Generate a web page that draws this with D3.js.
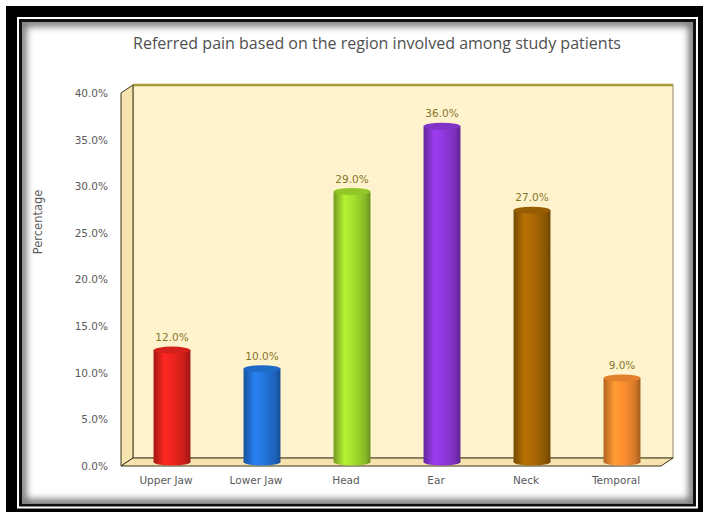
<!DOCTYPE html>
<html>
<head>
<meta charset="utf-8">
<script src="https://cdn.jsdelivr.net/npm/d3@7"></script>
<style>
  body { margin: 0; background: #fff; }
  svg { display: block; }
</style>
</head>
<body>
<svg id="chart"></svg>
<script>
const categories = ["Upper Jaw", "Lower Jaw", "Head", "Ear", "Neck", "Temporal"]
const values = [12.0, 10.0, 29.0, 36.0, 27.0, 9.0]
const barColors = ["#e3231d", "#2272d6", "#9ed62c", "#8b36d6", "#a36403", "#f58a2e"]
const yTicks = [0, 5, 10, 15, 20, 25, 30, 35, 40]
const chartTitle = "Referred pain based on the region involved among study patients"
const yTitle = "Percentage"

const width = 703
const height = 512

// front face of the 3d box, and its depth offset
const front = { left: 121, right: 661, top: 93, bottom: 466 }
const depth = { dx: 12, dy: 8 }

const svg = d3.select("#chart")
    .attr("width", width)
    .attr("height", height)
    .attr("viewBox", [0, 0, width, height])

const defs = svg.append("defs")

// ---- frame ----
svg.append("rect").attr("x", 6).attr("y", 6).attr("width", 697).attr("height", 506).attr("fill", "#000")
svg.append("rect").attr("x", 17).attr("y", 17).attr("width", 681).attr("height", 491.5).attr("fill", "#fff")
svg.append("rect").attr("x", 19).attr("y", 19).attr("width", 677).attr("height", 487.5).attr("fill", "#111")
svg.append("rect").attr("x", 22).attr("y", 22).attr("width", 671).attr("height", 481.5).attr("fill", "#fff")

// inner shadow of the panel
defs.append("clipPath").attr("id", "panelClip")
    .append("rect").attr("x", 22).attr("y", 22).attr("width", 671).attr("height", 481.5)
defs.append("filter").attr("id", "blur").attr("x", "-10%").attr("y", "-10%").attr("width", "120%").attr("height", "120%")
    .append("feGaussianBlur").attr("stdDeviation", 3.5)
svg.append("g").attr("clip-path", "url(#panelClip)")
    .append("rect")
    .attr("x", 22).attr("y", 22).attr("width", 671).attr("height", 481.5)
    .attr("fill", "none").attr("stroke", "#777").attr("stroke-width", 9)
    .attr("filter", "url(#blur)")

// ---- scales ----
const y = d3.scaleLinear().domain([0, 40]).range([front.bottom, front.top])

const x = d3.scaleBand()
    .domain(categories)
    .range([front.left, front.right])
    .paddingInner(0.59)
    .paddingOuter(0.295)

const color = d3.scaleOrdinal().domain(categories).range(barColors)

// ---- 3d box: back wall, left wall, floor ----
const edge = "#3b3416"
svg.append("rect")
    .attr("x", front.left + depth.dx)
    .attr("y", front.top - depth.dy)
    .attr("width", front.right - front.left)
    .attr("height", front.bottom - front.top)
    .attr("fill", "#fff3cd")
    .attr("stroke", "#8c8560").attr("stroke-width", 1)

svg.append("line")
    .attr("x1", front.left + depth.dx).attr("x2", front.right + depth.dx)
    .attr("y1", front.top - depth.dy).attr("y2", front.top - depth.dy)
    .attr("stroke", "#a89c3a").attr("stroke-width", 2.5)

// left wall
svg.append("path")
    .attr("d", `M${front.left},${front.top} L${front.left + depth.dx},${front.top - depth.dy}
        L${front.left + depth.dx},${front.bottom - depth.dy} L${front.left},${front.bottom} Z`)
    .attr("fill", "#f6e3b0").attr("stroke", edge).attr("stroke-width", 1)

// floor
svg.append("path")
    .attr("d", `M${front.left},${front.bottom} L${front.left + depth.dx},${front.bottom - depth.dy}
        L${front.right + depth.dx},${front.bottom - depth.dy} L${front.right},${front.bottom} Z`)
    .attr("fill", "#f6e3b0").attr("stroke", edge).attr("stroke-width", 1)

// ---- cylinders ----
const mid = { dx: depth.dx / 2, dy: depth.dy / 2 }
const ry = 3.5

categories.forEach((c, i) => {
    const base = d3.color(color(c))
    const g = defs.append("linearGradient").attr("id", "grad" + i)
        .attr("x1", "0%").attr("x2", "100%").attr("y1", "0%").attr("y2", "0%")
    g.append("stop").attr("offset", "0%").attr("stop-color", base.darker(0.9))
    g.append("stop").attr("offset", "30%").attr("stop-color", base.brighter(0.35))
    g.append("stop").attr("offset", "55%").attr("stop-color", base.brighter(0.1))
    g.append("stop").attr("offset", "85%").attr("stop-color", base.darker(0.4))
    g.append("stop").attr("offset", "100%").attr("stop-color", base.darker(1.1))
})

const bars = svg.append("g")
    .selectAll("g")
    .data(categories.map((c, i) => ({ name: c, value: values[i], i })))
    .join("g")
    .attr("transform", `translate(${mid.dx},${-mid.dy})`)

bars.append("rect")
    .attr("x", d => x(d.name))
    .attr("y", d => y(d.value))
    .attr("width", x.bandwidth())
    .attr("height", d => y(0) - y(d.value))
    .attr("fill", d => `url(#grad${d.i})`)

bars.append("ellipse")
    .attr("cx", d => x(d.name) + x.bandwidth() / 2)
    .attr("cy", y(0))
    .attr("rx", x.bandwidth() / 2)
    .attr("ry", ry)
    .attr("fill", d => `url(#grad${d.i})`)

bars.append("ellipse")
    .attr("cx", d => x(d.name) + x.bandwidth() / 2)
    .attr("cy", d => y(d.value))
    .attr("rx", x.bandwidth() / 2)
    .attr("ry", ry)
    .attr("fill", d => d3.color(color(d.name)).darker(0.2))

bars.append("text")
    .attr("x", d => x(d.name) + x.bandwidth() / 2)
    .attr("y", d => y(d.value) - 9)
    .attr("text-anchor", "middle")
    .attr("font-family", "DejaVu Sans, sans-serif")
    .attr("font-size", 10.5)
    .attr("fill", "#86762a")
    .text(d => d.value.toFixed(1) + "%")

// ---- axes ----
const yAxis = svg.append("g")
    .attr("transform", `translate(${front.left},0)`)
    .call(d3.axisLeft(y).tickValues(yTicks).tickSize(0).tickPadding(13).tickFormat(d => d.toFixed(1) + "%"))
yAxis.select(".domain").remove()
yAxis.selectAll("text")
    .attr("font-family", "DejaVu Sans, sans-serif")
    .attr("font-size", 10.5)
    .attr("fill", "#5a5a5a")

const xAxis = svg.append("g")
    .attr("transform", `translate(0,${front.bottom})`)
    .call(d3.axisBottom(x).tickSize(0).tickPadding(11))
xAxis.select(".domain").remove()
xAxis.selectAll("text")
    .attr("font-family", "DejaVu Sans, sans-serif")
    .attr("font-size", 10.5)
    .attr("fill", "#5a5a5a")

// ---- titles ----
svg.append("text")
    .attr("x", 377)
    .attr("y", 49)
    .attr("text-anchor", "middle")
    .attr("font-family", "Open Sans, sans-serif")
    .attr("font-size", 15.5)
    .attr("textLength", 488)
    .attr("lengthAdjust", "spacingAndGlyphs")
    .attr("fill", "#505050")
    .text(chartTitle)

svg.append("text")
    .attr("transform", "translate(42,222) rotate(-90)")
    .attr("text-anchor", "middle")
    .attr("font-family", "DejaVu Sans, sans-serif")
    .attr("font-size", 11.5)
    .attr("fill", "#5a5a5a")
    .text(yTitle)
</script>
</body>
</html>
